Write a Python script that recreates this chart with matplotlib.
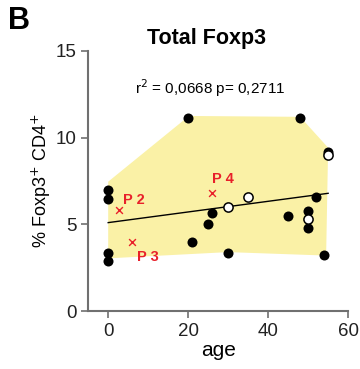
import matplotlib
matplotlib.use("Agg")
import matplotlib.pyplot as plt

plt.rcParams['font.family'] = ['Liberation Sans', 'DejaVu Sans']

# filled donors
age_filled = [0, 0, 0, 0, 20, 48, 55, 52, 50, 50, 45, 26, 25, 21, 30, 54]
foxp3_filled = [7.0, 6.45, 3.37, 2.9, 11.12, 11.12, 9.19, 6.6, 5.77, 4.77, 5.46, 5.64, 5.02, 3.96, 3.33, 3.23]
# open donors
age_open = [55, 50, 30, 35]
foxp3_open = [9.0, 5.29, 6.02, 6.6]
# patients
pat_names = ["P 2", "P 3", "P 4"]
pat_age = [2.7, 6.0, 26.0]
pat_foxp3 = [5.83, 4.0, 6.79]
# regression line
fit_x = [0, 55]
fit_y = [5.1, 6.79]
# shaded envelope
hull_x = [0, 20.2, 48, 55, 54.5, 30, 0]
hull_y = [7.46, 11.25, 11.2, 9.42, 3.2, 3.4, 3.04]

fig = plt.figure(figsize=(3.6, 3.69), dpi=100)
ax = fig.add_axes([0.245, 0.157, 0.722, 0.705])

ax.fill(hull_x, hull_y, color='#FAF1A6', zorder=1, lw=0)
ax.plot(fit_x, fit_y, color='black', lw=1.0, zorder=2)
ax.scatter(age_filled, foxp3_filled, s=52, color='black', zorder=3, lw=0)
ax.scatter(age_open, foxp3_open, s=44, facecolor='white', edgecolor='black', lw=1.1, zorder=4)
ax.scatter(pat_age, pat_foxp3, marker='x', s=24, color='#E8202A', lw=1.0, zorder=4)

label_pos = [(3.8, 6.4), (7.1, 3.1), (26.0, 7.6)]
for name, (lx, ly) in zip(pat_names, label_pos):
    ax.text(lx, ly, name, color='#E8202A', fontsize=10.5, fontweight='bold',
            ha='left', va='center')

ax.set_xlim(-5, 60)
ax.set_ylim(0, 15)
ax.set_xticks([0, 20, 40, 60])
ax.set_yticks([0, 5, 10, 15])
for s in ['top', 'right']:
    ax.spines[s].set_visible(False)
for s in ['left', 'bottom']:
    ax.spines[s].set_color('#707070')
    ax.spines[s].set_linewidth(1.5)
ax.tick_params(colors='#707070', labelcolor='#222222', labelsize=13.5, length=5, width=1.2)

ax.set_xlabel('age', fontsize=15, labelpad=1)
ax.set_ylabel('% Foxp3$^{+}$ CD4$^{+}$', fontsize=13, labelpad=2)

fig.text(0.575, 0.895, 'Total Foxp3', fontsize=15.5, fontweight='bold', ha='center', va='center')
fig.text(0.022, 0.942, 'B', fontsize=22, fontweight='bold', ha='left', va='center')
fig.text(0.585, 0.762, 'r$^{2}$ = 0,0668 p= 0,2711', fontsize=11, ha='center', va='center')

fig.savefig('out.png', dpi=100)
